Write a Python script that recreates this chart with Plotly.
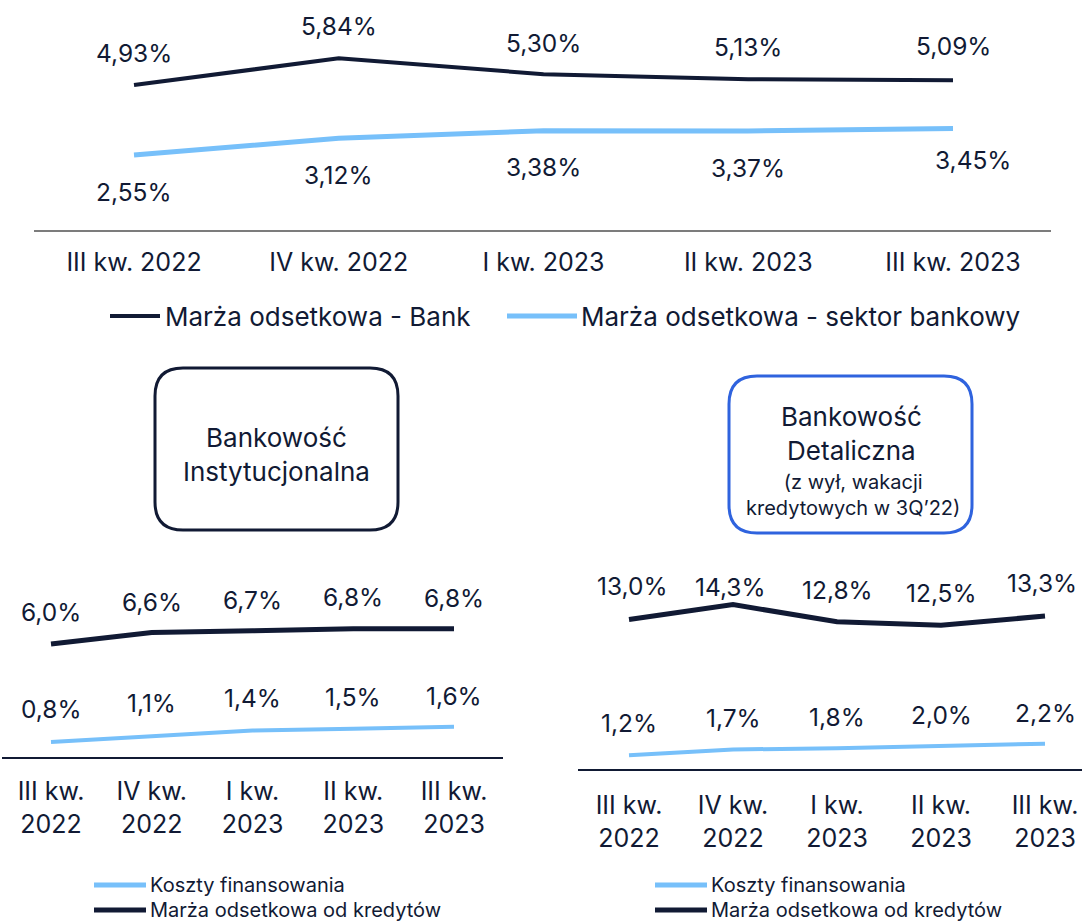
import plotly.graph_objects as go

W, H = 1082, 922

# ---------------- data ----------------
quarters_top = ["III kw. 2022", "IV kw. 2022", "I kw. 2023", "II kw. 2023", "III kw. 2023"]
quarters_bottom = ["III kw.<br>2022", "IV kw.<br>2022", "I kw.<br>2023", "II kw.<br>2023", "III kw.<br>2023"]

marza_bank = [4.93, 5.84, 5.30, 5.13, 5.09]
marza_sektor = [2.55, 3.12, 3.38, 3.37, 3.45]

inst_koszty = [0.8, 1.1, 1.4, 1.5, 1.6]
inst_marza = [6.0, 6.6, 6.7, 6.8, 6.8]

det_koszty = [1.2, 1.7, 1.8, 2.0, 2.2]
det_marza = [13.0, 14.3, 12.8, 12.5, 13.3]

legend_top = ["Marża odsetkowa - Bank", "Marża odsetkowa - sektor bankowy"]
legend_bottom = ["Koszty finansowania", "Marża odsetkowa od kredytów"]
box_left_text = "Bankowość<br>Instytucjonalna"
box_right_title = "Bankowość<br>Detaliczna"
box_right_sub = "(z wył, wakacji<br>kredytowych w 3Q’22)"

# ---------------- style ----------------
DARK = "#111a34"
LIGHT = "#77c0fa"
GRAY = "#7c7c7c"
BLUE = "#2f63de"
FONT = "Inter"

def px_x(p):
    return p / W

def px_y(p):
    return 1 - p / H

def fmt(v, d):
    return f"{v:.{d}f}".replace(".", ",") + "%"

fig = go.Figure()

idx = list(range(5))

panels = {
    "top": dict(xa="x", ya="y", xd=(34, 1051), yd=(0, 230), x0=134, dx=204.75, ppu=29.4, standoff=9),
    "left": dict(xa="x2", ya="y2", xd=(2, 503), yd=(560, 757), x0=51, dx=100.75, ppu=18.85, standoff=11),
    "right": dict(xa="x3", ya="y3", xd=(578, 1082), yd=(560, 769), x0=629, dx=104, ppu=11.5, standoff=13),
}

fig.add_trace(go.Scatter(x=idx, y=marza_bank, mode="lines", line=dict(color=DARK, width=4),
                         xaxis="x", yaxis="y", showlegend=False, hoverinfo="skip"))
fig.add_trace(go.Scatter(x=idx, y=marza_sektor, mode="lines", line=dict(color=LIGHT, width=5),
                         xaxis="x", yaxis="y", showlegend=False, hoverinfo="skip"))
fig.add_trace(go.Scatter(x=idx, y=inst_marza, mode="lines", line=dict(color=DARK, width=5),
                         xaxis="x2", yaxis="y2", showlegend=False, hoverinfo="skip"))
fig.add_trace(go.Scatter(x=idx, y=inst_koszty, mode="lines", line=dict(color=LIGHT, width=4),
                         xaxis="x2", yaxis="y2", showlegend=False, hoverinfo="skip"))
fig.add_trace(go.Scatter(x=idx, y=det_marza, mode="lines", line=dict(color=DARK, width=5),
                         xaxis="x3", yaxis="y3", showlegend=False, hoverinfo="skip"))
fig.add_trace(go.Scatter(x=idx, y=det_koszty, mode="lines", line=dict(color=LIGHT, width=4),
                         xaxis="x3", yaxis="y3", showlegend=False, hoverinfo="skip"))

annotations = []
LABEL_SIZE = 24.5

def add_labels(vals, xa, ya, decimals, yshifts, xshifts=None):
    for i, v in enumerate(vals):
        annotations.append(dict(
            x=i, y=v, xref=xa, yref=ya, text=fmt(v, decimals), showarrow=False,
            xanchor="center", yanchor="middle",
            yshift=yshifts[i], xshift=(xshifts[i] if xshifts else 0),
            font=dict(family=FONT, size=LABEL_SIZE, color=DARK)))

add_labels(marza_bank, "x", "y", 2, [32, 32, 31, 32, 34])
add_labels(marza_sektor, "x", "y", 2, [-37, -37, -36, -37, -31], [0, 0, 0, 0, 20])
add_labels(inst_marza, "x2", "y2", 1, [32, 31, 31, 32, 31])
add_labels(inst_koszty, "x2", "y2", 1, [33, 33, 33, 32, 31])
add_labels(det_marza, "x3", "y3", 1, [34, 18, 32, 32, 33], [3, -3, 0, 0, -3])
add_labels(det_koszty, "x3", "y3", 1, [32, 31, 31, 31, 31])

layout_axes = {}
for name, p in panels.items():
    xl, xr = p["xd"]
    yt, yb = p["yd"]
    rng_x = [(xl - p["x0"]) / p["dx"], (xr - p["x0"]) / p["dx"]]
    rng_y = [0, (yb - yt) / p["ppu"]]
    xkey = "xaxis" if p["xa"] == "x" else "xaxis" + p["xa"][1:]
    ykey = "yaxis" if p["ya"] == "y" else "yaxis" + p["ya"][1:]
    is_top = name == "top"
    layout_axes[xkey] = dict(
        domain=[px_x(xl), px_x(xr)], range=rng_x, anchor=p["ya"],
        tickvals=idx, ticktext=quarters_top if is_top else quarters_bottom,
        showgrid=False, zeroline=False, showline=True,
        linecolor=GRAY if is_top else DARK, linewidth=2,
        ticks="", ticklabelstandoff=p["standoff"],
        tickfont=dict(family=FONT, size=25, color=DARK),
        fixedrange=True)
    layout_axes[ykey] = dict(
        domain=[px_y(yb), px_y(yt)], range=rng_y, anchor=p["xa"],
        visible=False, fixedrange=True)

shapes = []

def hline(x1, x2, y, color, width):
    shapes.append(dict(type="line", xref="paper", yref="paper",
                       x0=px_x(x1), x1=px_x(x2), y0=px_y(y), y1=px_y(y),
                       line=dict(color=color, width=width)))

def legend_text(x, y, text, size):
    annotations.append(dict(x=px_x(x), y=px_y(y), xref="paper", yref="paper", text=text,
                            showarrow=False, xanchor="left", yanchor="middle",
                            font=dict(family=FONT, size=size, color=DARK)))

# top legend
hline(110, 160, 316, DARK, 4)
legend_text(163, 316, legend_top[0], 26)
hline(507, 577, 316, LIGHT, 5)
legend_text(579, 316, legend_top[1], 26)

# bottom legends
for lx in (94, 655):
    hline(lx, lx + 52, 885, LIGHT, 5)
    legend_text(lx + 54, 885, legend_bottom[0], 20)
    hline(lx, lx + 52, 910, DARK, 5)
    legend_text(lx + 54, 910, legend_bottom[1], 20)

def rounded_box(x1, y1, x2, y2, r, color, width):
    X = lambda v: px_x(v)
    Y = lambda v: px_y(v)
    path = (f"M {X(x1 + r)},{Y(y1)} L {X(x2 - r)},{Y(y1)} Q {X(x2)},{Y(y1)} {X(x2)},{Y(y1 + r)} "
            f"L {X(x2)},{Y(y2 - r)} Q {X(x2)},{Y(y2)} {X(x2 - r)},{Y(y2)} "
            f"L {X(x1 + r)},{Y(y2)} Q {X(x1)},{Y(y2)} {X(x1)},{Y(y2 - r)} "
            f"L {X(x1)},{Y(y1 + r)} Q {X(x1)},{Y(y1)} {X(x1 + r)},{Y(y1)} Z")
    shapes.append(dict(type="path", xref="paper", yref="paper", path=path,
                       line=dict(color=color, width=width), fillcolor="rgba(0,0,0,0)"))

rounded_box(155, 368, 398, 530, 28, DARK, 3)
rounded_box(729, 376, 972, 533, 28, BLUE, 3)

annotations.append(dict(x=px_x(276), y=px_y(454), xref="paper", yref="paper", text=box_left_text,
                        showarrow=False, xanchor="center", yanchor="middle",
                        font=dict(family=FONT, size=26, color=DARK)))
annotations.append(dict(x=px_x(851), y=px_y(433), xref="paper", yref="paper", text=box_right_title,
                        showarrow=False, xanchor="center", yanchor="middle",
                        font=dict(family=FONT, size=26, color=DARK)))
annotations.append(dict(x=px_x(853), y=px_y(495), xref="paper", yref="paper", text=box_right_sub,
                        showarrow=False, xanchor="center", yanchor="middle",
                        font=dict(family=FONT, size=20, color=DARK)))

fig.update_layout(
    width=W, height=H, margin=dict(l=0, r=0, t=0, b=0),
    paper_bgcolor="white", plot_bgcolor="white",
    showlegend=False, shapes=shapes, annotations=annotations,
    **layout_axes)

fig.write_html("out.html", config={"displayModeBar": False, "staticPlot": True},
               post_script="document.body.style.margin='0';document.body.style.overflow='hidden';")
